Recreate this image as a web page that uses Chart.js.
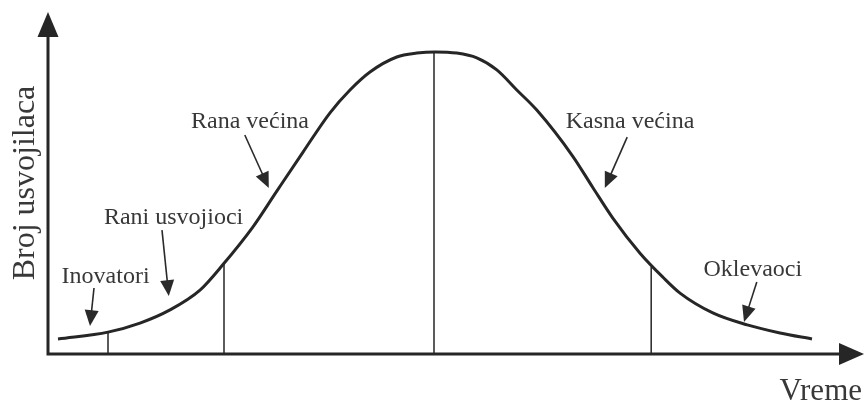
<!DOCTYPE html>
<html>
<head>
<meta charset="utf-8">
<script src="https://cdn.jsdelivr.net/npm/chart.js@4.4.1/dist/chart.umd.min.js"></script>
<style>
  html, body { margin: 0; background: #fff; }
  #wrap { width: 864px; height: 401px; }
</style>
</head>
<body>
<div id="wrap"><canvas id="chart"></canvas></div>
<script>
// adoption curve (time 0..100, adopters 0..110)
const time = [1.25, 7.5, 11.5, 15.25, 19, 21.9, 25.6, 28.6, 31.9, 35.25, 37.75, 40.25, 43.6, 46.1, 48.4,
  51.1, 53.6, 56.1, 58.6, 61.1, 65.6, 68.1, 70.6, 74, 76.9, 79, 83.1, 87.4, 91.5, 95.5];
const adopters = [5, 7.3, 10.3, 14.7, 21.3, 29.9, 42.3, 54.3, 67.4, 80.4, 88, 94, 99, 100.3, 100.7,
  100.3, 98.7, 94.7, 88, 81.3, 65.9, 55.5, 45.3, 33.6, 25.5, 20.3, 13.7, 9.7, 7, 5];

// vertical split lines between the groups
const dividerTime = [7.5, 22, 48.25, 75.4];
const dividerTop = [7.4, 30, 100.7, 29];

// group labels with their arrows (text centre/baseline, arrow start, arrow tip)
const noteText = ["Inovatori", "Rani usvojioci", "Rana većina", "Kasna većina", "Oklevaoci"];
const notePos = [[7.2, 23.7], [15.7, 43.3], [25.25, 75.3], [72.75, 75.3], [88.1, 26]];
const noteArrow = [
  [5.75, 22, 5.25, 9.3],
  [14.25, 41.3, 15.1, 19.3],
  [24.6, 73, 27.6, 55.3],
  [72.4, 72.3, 69.6, 55.3],
  [88.6, 24, 87, 10.7]
];

const xTitle = "Vreme";
const yTitle = "Broj usvojilaca";

const ink = "#262626";

function arrowHead(ctx, x1, y1, x2, y2, len, half) {
  const a = Math.atan2(y2 - y1, x2 - x1);
  ctx.beginPath();
  ctx.moveTo(x2, y2);
  ctx.lineTo(x2 - len * Math.cos(a) + half * Math.sin(a), y2 - len * Math.sin(a) - half * Math.cos(a));
  ctx.lineTo(x2 - len * Math.cos(a) - half * Math.sin(a), y2 - len * Math.sin(a) + half * Math.cos(a));
  ctx.closePath();
  ctx.fill();
}

const decor = {
  id: "decor",
  afterDatasetsDraw(chart) {
    const ctx = chart.ctx;
    const x = chart.scales.x;
    const y = chart.scales.y;
    const x0 = x.getPixelForValue(0);
    const y0 = y.getPixelForValue(0);
    const xEnd = x.getPixelForValue(102);
    const yEnd = y.getPixelForValue(114);

    ctx.save();
    ctx.strokeStyle = ink;
    ctx.fillStyle = ink;
    ctx.lineWidth = 3;
    ctx.beginPath();
    ctx.moveTo(x0, y0 + 1.5);
    ctx.lineTo(x0, yEnd + 20);
    ctx.moveTo(x0 - 1.5, y0);
    ctx.lineTo(xEnd - 20, y0);
    ctx.stroke();
    arrowHead(ctx, x0, y0, x0, yEnd, 25, 10.5);
    arrowHead(ctx, x0, y0, xEnd, y0, 25, 11);

    // notes
    ctx.fillStyle = "#383838";
    ctx.font = '24px "Liberation Serif"';
    ctx.textAlign = "center";
    ctx.textBaseline = "alphabetic";
    noteText.forEach((t, i) => {
      ctx.fillText(t, x.getPixelForValue(notePos[i][0]), y.getPixelForValue(notePos[i][1]));
    });
    ctx.strokeStyle = "#2a2a2a";
    ctx.fillStyle = "#2a2a2a";
    ctx.lineWidth = 1.6;
    noteArrow.forEach(a => {
      const ax = x.getPixelForValue(a[0]), ay = y.getPixelForValue(a[1]);
      const bx = x.getPixelForValue(a[2]), by = y.getPixelForValue(a[3]);
      const ang = Math.atan2(by - ay, bx - ax);
      ctx.beginPath();
      ctx.moveTo(ax, ay);
      ctx.lineTo(bx - 10 * Math.cos(ang), by - 10 * Math.sin(ang));
      ctx.stroke();
      arrowHead(ctx, ax, ay, bx, by, 16, 7);
    });

    // axis titles
    ctx.fillStyle = "#383838";
    ctx.font = '31px "Liberation Serif"';
    ctx.textAlign = "right";
    ctx.fillText(xTitle, xEnd - 2, y0 + 46);
    ctx.font = '32px "Liberation Serif"';
    ctx.translate(x0 - 14, (y0 + yEnd) / 2);
    ctx.rotate(-Math.PI / 2);
    ctx.textAlign = "center";
    ctx.fillText(yTitle, 0, 0);
    ctx.restore();
  }
};

const datasets = [{
  data: time.map((t, i) => ({ x: t, y: adopters[i] })),
  borderColor: ink,
  borderWidth: 3,
  pointRadius: 0,
  cubicInterpolationMode: "monotone",
  fill: false
}];
dividerTime.forEach((t, i) => {
  datasets.push({
    data: [{ x: t, y: 0 }, { x: t, y: dividerTop[i] }],
    borderColor: "#333",
    borderWidth: 1.6,
    pointRadius: 0,
    fill: false
  });
});

new Chart(document.getElementById("chart"), {
  type: "line",
  data: { datasets },
  options: {
    responsive: true,
    maintainAspectRatio: false,
    devicePixelRatio: 1,
    animation: false,
    layout: { padding: { left: 48, right: 16, top: 24, bottom: 47 } },
    scales: {
      x: { type: "linear", min: 0, max: 100, display: false },
      y: { min: 0, max: 110, display: false }
    },
    plugins: { legend: { display: false }, tooltip: { enabled: false } }
  },
  plugins: [decor]
});
</script>
</body>
</html>
